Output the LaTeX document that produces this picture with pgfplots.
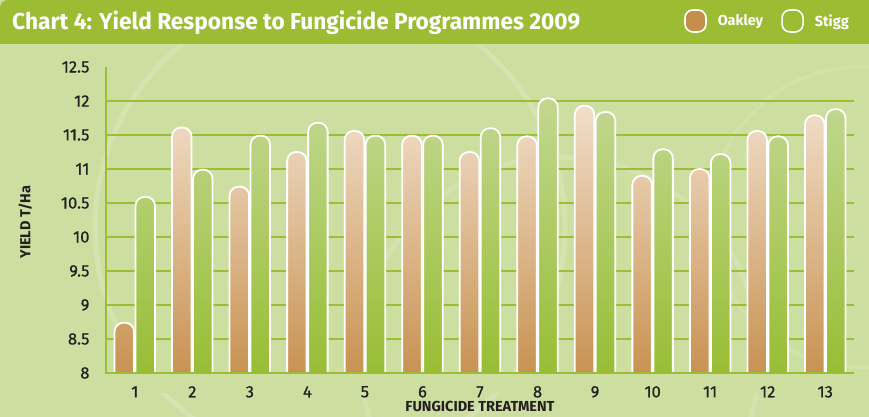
\documentclass[border=0pt]{standalone}
\usepackage{pgfplots}
\usepackage{pgfplotstable}
\pgfplotsset{compat=1.18}
\usepackage{fontspec}
\setmainfont{Fira Sans}
\newfontfamily\tickfont{Fira Sans}[FakeBold=0.5]
\usepackage{graphicx}

\definecolor{bg}{HTML}{CCDEA0}
\definecolor{titlegreen}{HTML}{9BBC33}
\definecolor{oaktop}{HTML}{F1DEC9}
\definecolor{oakbot}{HTML}{C68E4C}
\definecolor{stitop}{HTML}{C2D891}
\definecolor{stibot}{HTML}{96BC2F}
\definecolor{gridc}{HTML}{9CBE35}
\definecolor{txt}{HTML}{231F20}

\pgfplotstableread{
x oakley stigg
1 8.74 10.59
2 11.61 10.99
3 10.74 11.49
4 11.25 11.68
5 11.56 11.49
6 11.49 11.49
7 11.25 11.60
8 11.48 12.04
9 11.93 11.84
10 10.90 11.29
11 11.00 11.22
12 11.56 11.48
13 11.79 11.88
}\data

\begin{document}
\begin{tikzpicture}
\fill[bg] (0pt,0pt) rectangle (869pt,417pt);
% decorative faint circles
\begin{scope}
\clip (0pt,0pt) rectangle (869pt,373pt);
\draw[white, opacity=0.18, line width=5pt] (330pt,190pt) circle (235pt);
\draw[white, opacity=0.15, line width=5pt] (560pt,60pt) circle (200pt);
\draw[white, opacity=0.12, line width=4pt] (860pt,200pt) circle (150pt);
\end{scope}
% title bar
\fill[titlegreen] (0pt,373pt) -- (0pt,409pt) arc[start angle=180,end angle=90,radius=8pt] -- (869pt,417pt) -- (869pt,373pt) -- cycle;
\node[anchor=base west, inner sep=0, text=white, font=\bfseries\fontsize{23}{26}\selectfont] at (12pt,387pt)
  {\resizebox{568pt}{\height}{Chart 4: Yield Response to Fungicide Programmes 2009}};

\begin{axis}[
  axis on top,
  at={(106pt,30.4pt)}, anchor=south west,
  scale only axis, width=748pt, height=319.6pt,
  xmin=0.5, xmax=13.5, ymin=7.8, ymax=12.5,
  clip=false,
  ybar=1.5pt, bar width=19.5pt,
  axis line style={draw=none},
  tick style={draw=none},
  xtick={1,2,3,4,5,6,7,8,9,10,11,12,13},
  xticklabels={1,2,3,4,5,6,7,8,9,10,11,12,13},
  ytick={8,8.5,9,9.5,10,10.5,11,11.5,12,12.5},
  yticklabels={8,8.5,9,9.5,10,10.5,11,11.5,12,12.5},
  ticklabel style={text=txt, font=\tickfont\fontsize{16.5}{18}\selectfont},
  xticklabel style={anchor=center, yshift=-1pt},
  yticklabel style={anchor=east, xshift=-13pt},
  xlabel={FUNGICIDE TREATMENT},
  ylabel={YIELD T/Ha},
  label style={text=txt, font=\bfseries\fontsize{14.5}{16}\selectfont},
  xlabel style={at={(axis description cs:0.5,-0.061)}, anchor=center},
  ylabel style={at={(axis description cs:-0.108,0.515)}, anchor=center},
  legend style={at={(axis description cs:1.0,1.144)}, anchor=east, draw=none, fill=none,
    legend columns=2, text=white, font=\bfseries\fontsize{14.5}{16}\selectfont,
    /tikz/every odd column/.append style={column sep=9pt},
    /tikz/every even column/.append style={column sep=16pt},
    legend cell align=left},
]
% horizontal grid lines (behind the bars)
\draw[gridc, line width=1.4pt] (axis cs:0.5,8.5) -- (axis cs:13.5,8.5);
\draw[gridc, line width=1.4pt] (axis cs:0.5,9) -- (axis cs:13.5,9);
\draw[gridc, line width=1.4pt] (axis cs:0.5,9.5) -- (axis cs:13.5,9.5);
\draw[gridc, line width=1.4pt] (axis cs:0.5,10) -- (axis cs:13.5,10);
\draw[gridc, line width=1.4pt] (axis cs:0.5,10.5) -- (axis cs:13.5,10.5);
\draw[gridc, line width=1.4pt] (axis cs:0.5,11) -- (axis cs:13.5,11);
\draw[gridc, line width=1.4pt] (axis cs:0.5,11.5) -- (axis cs:13.5,11.5);
\draw[gridc, line width=1.4pt] (axis cs:0.5,12) -- (axis cs:13.5,12);
\addplot[draw=white, line width=1.8pt, rounded corners=9pt, top color=oaktop, bottom color=oakbot,
  legend image code/.code={\draw[white, line width=1.6pt, top color=oakbot, bottom color=oakbot, rounded corners=8pt] (0pt,-11pt) rectangle (21pt,11pt);}]
  table[x=x,y=oakley]{\data};
\addlegendentry{Oakley}
\addplot[draw=white, line width=1.8pt, rounded corners=9pt, top color=stitop, bottom color=stibot,
  legend image code/.code={\draw[white, line width=1.6pt, top color=titlegreen, bottom color=titlegreen, rounded corners=8pt] (0pt,-11pt) rectangle (21pt,11pt);}]
  table[x=x,y=stigg]{\data};
\addlegendentry{Stigg}
\fill[bg] (axis cs:0.5,7.7) rectangle (axis cs:13.6,8);
\draw[gridc, line width=2.6pt] (axis cs:0.5,12.5) -- (axis cs:0.5,8) -- (axis cs:13.5,8);
\end{axis}
\end{tikzpicture}
\end{document}
